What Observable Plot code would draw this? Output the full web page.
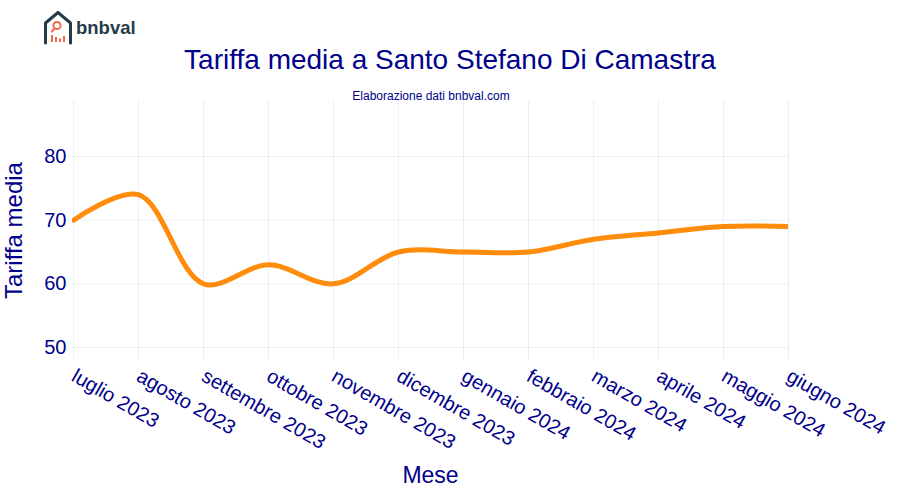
<!DOCTYPE html>
<html>
<head>
<meta charset="utf-8">
<script src="https://cdn.jsdelivr.net/npm/d3@7"></script>
<script src="https://cdn.jsdelivr.net/npm/@observablehq/plot@0.6"></script>
<style>
  body { margin: 0; background: #fff; }
  #wrap { position: relative; width: 900px; height: 500px; font-family: "Liberation Sans", Arial, sans-serif; }
  #chart { position: absolute; left: 0; top: 0; }
  .title { position: absolute; left: 0; width: 900px; text-align: center; color: #00008b; }
  #t1 { top: 44px; font-size: 28px; }
  #t2 { top: 89px; left: 0; width: 862px; font-size: 12px; }
  #logo { position: absolute; left: 40px; top: 8px; }
</style>
</head>
<body>
<div id="wrap">
  <svg id="logo" width="110" height="40" viewBox="0 0 110 40">
    <path d="M5.5 35 V15 L18 4.5 L30.5 15 V35" fill="none" stroke="#263b4a" stroke-width="3" stroke-linejoin="round" stroke-linecap="round"/>
    <circle cx="17" cy="17.5" r="3.6" fill="none" stroke="#ef6b50" stroke-width="2"/>
    <line x1="14.5" y1="20.5" x2="12" y2="23.5" stroke="#ef6b50" stroke-width="2" stroke-linecap="round"/>
    <rect x="11" y="27" width="2" height="7" fill="#ef6b50"/>
    <rect x="15" y="29" width="2" height="5" fill="#ef6b50"/>
    <rect x="19" y="30.5" width="2" height="3.5" fill="#ef6b50"/>
    <rect x="23" y="28" width="2" height="6" fill="#ef6b50"/>
    <text x="36" y="26" font-family="'Liberation Sans', Arial, sans-serif" font-weight="bold" font-size="18.5" fill="#263b4a">bnbval</text>
  </svg>
  <div id="chart"></div>
  <div class="title" id="t1">Tariffa media a Santo Stefano Di Camastra</div>
  <div class="title" id="t2">Elaborazione dati bnbval.com</div>
</div>
<script>
const months = ["luglio 2023", "agosto 2023", "settembre 2023", "ottobre 2023", "novembre 2023", "dicembre 2023",
                "gennaio 2024", "febbraio 2024", "marzo 2024", "aprile 2024", "maggio 2024", "giugno 2024"];
const tariffa = [70, 74, 60, 63, 60, 65, 65, 65, 67, 68, 69, 69];
const yTicks = [50, 60, 70, 80];

const data = months.map((m, i) => ({mese: m, tariffa: tariffa[i]}));
const navy = "#00008b";
const grid = "#ebf0f8";

const chart = Plot.plot({
  width: 900,
  height: 500,
  marginTop: 100,
  marginBottom: 140,
  marginLeft: 72,
  marginRight: 112,
  style: {fontFamily: "'Liberation Sans', Arial, sans-serif", background: "transparent"},
  x: {type: "point", domain: months, padding: 0},
  y: {domain: [47.96, 88.8]},
  marks: [
    Plot.gridX(months, {stroke: grid, strokeOpacity: 1, strokeWidth: 1}),
    Plot.gridY(yTicks, {stroke: grid, strokeOpacity: 1, strokeWidth: 1}),
    Plot.axisY(yTicks, {tickSize: 0, tickPadding: 6, fontSize: 20, fill: navy, label: null}),
    Plot.axisX(months, {tickSize: 0, tickPadding: 14, tickRotate: 30, fontSize: 20, fill: navy, label: null}),
    Plot.text(["Tariffa media"], {frameAnchor: "left", textAnchor: "middle", dx: -58, rotate: -90, fontSize: 24, fill: navy}),
    Plot.text(["Mese"], {frameAnchor: "bottom", dy: 122, fontSize: 23, fill: navy}),
    Plot.line(data, {x: "mese", y: "tariffa", stroke: "#ff8c0a", strokeWidth: 5, curve: "catmull-rom", clip: true})
  ]
});
document.getElementById("chart").appendChild(chart);
</script>
</body>
</html>
